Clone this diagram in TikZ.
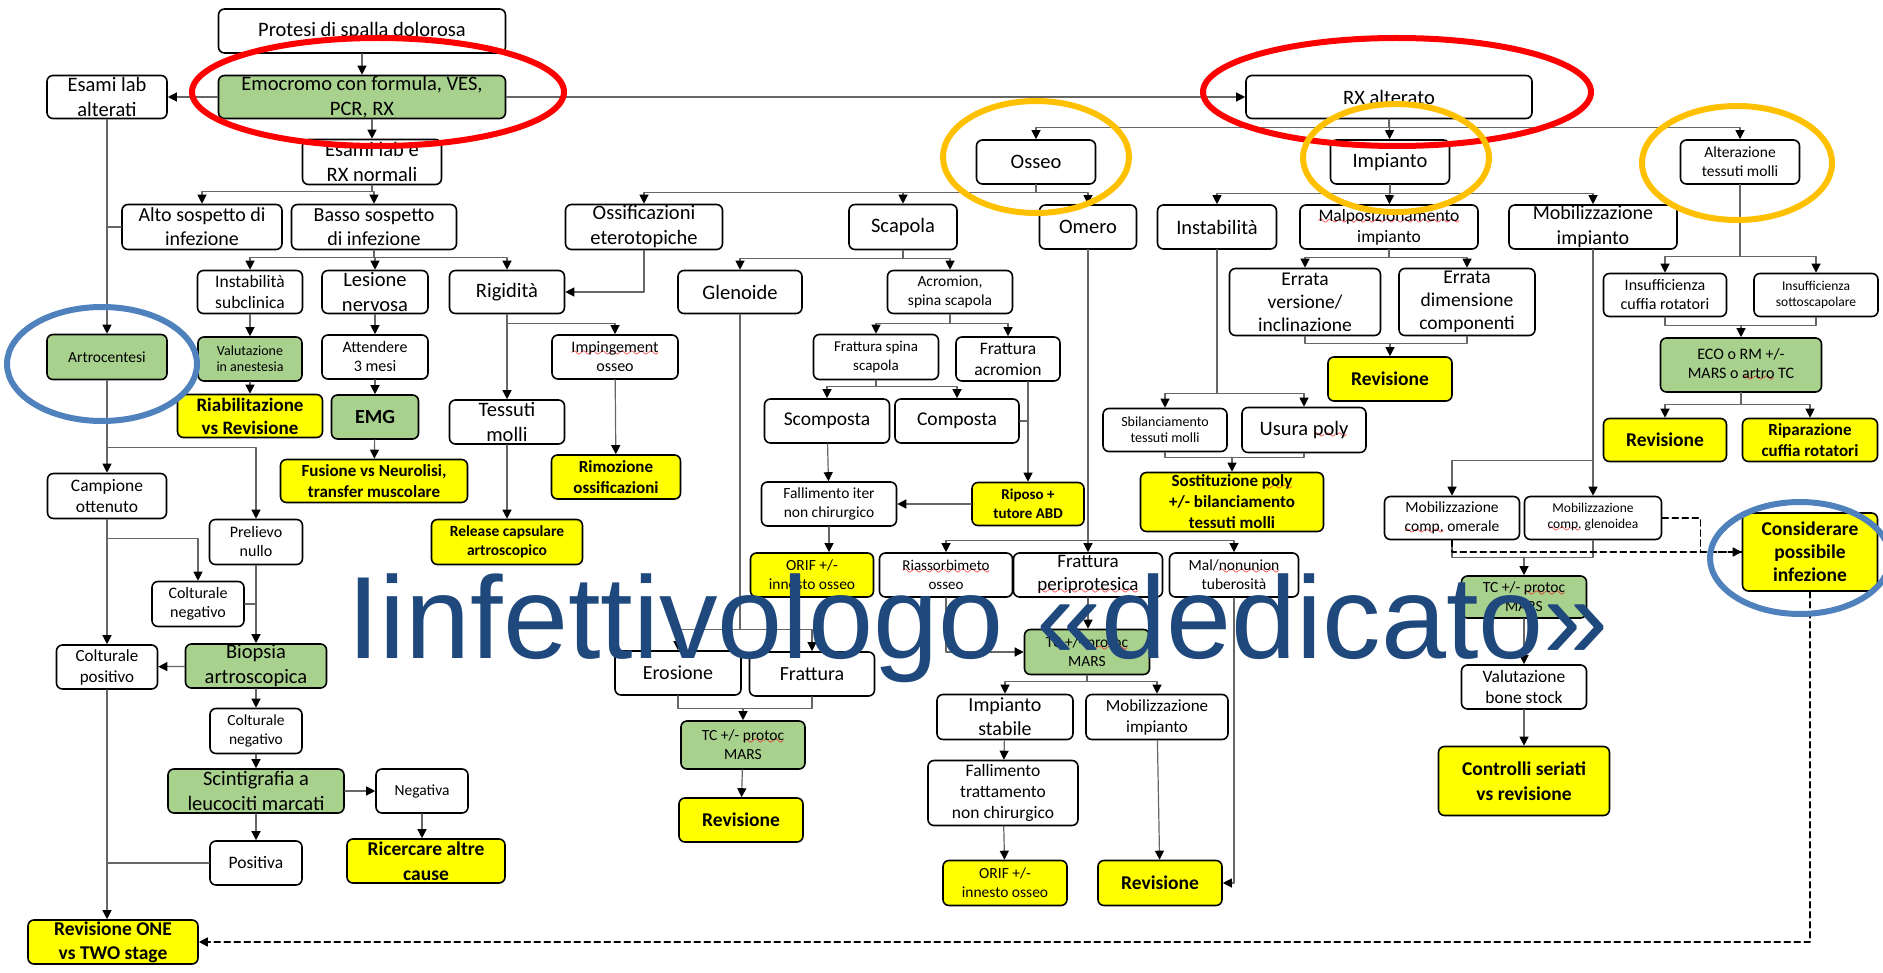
\documentclass[tikz,border=0pt]{standalone}
\usepackage{fontspec}
\setmainfont{Carlito}
\newfontfamily\bigsans{Liberation Sans}
\usetikzlibrary{arrows.meta}
\definecolor{boxgreen}{RGB}{169,209,142}
\definecolor{boxyellow}{RGB}{255,255,0}
\definecolor{ringred}{RGB}{255,0,0}
\definecolor{ringorange}{RGB}{255,192,0}
\definecolor{ringblue}{RGB}{79,129,189}
\definecolor{titleblue}{RGB}{31,73,125}
\font\wavefont=lasy10 scaled 1400
\newsavebox\spellbox
\newcommand\spellerr[1]{\sbox\spellbox{#1}\rlap{\textcolor{red}{\lower3.5pt\hbox to\wd\spellbox{\xleaders\hbox{\wavefont\char58}\hfil}}}\usebox\spellbox}
\begin{document}
\begin{tikzpicture}[x=1pt, y=-1pt, line join=round, line cap=round,
	box/.style={draw=black, line width=1.6pt, rounded corners=6pt, align=center, inner sep=0pt, text=black},
	wbox/.style={box, fill=white},
	gbox/.style={box, fill=boxgreen},
	ybox/.style={box, fill=boxyellow},
	heavy/.style={execute at begin node=\bfseries},
	sz/.style 2 args={minimum width=#1pt, minimum height=#2pt},
	fs/.style 2 args={font=\fontsize{#1}{#2}\selectfont},
	link/.style={draw=black!60, line width=1.2pt},
	arr/.style={link, -{Triangle[length=9pt, width=9pt, color=black]}},
	dashlink/.style={draw=black, line width=1.6pt, dash pattern=on 6pt off 4pt},
	dasharr/.style={dashlink, -{Triangle[length=9pt, width=9pt, color=black]}},
	ring/.style={line width=6pt}]
	\useasboundingbox (0,0) rectangle (1883,973);
	
	\node[wbox, sz={287}{44}, fs={20.5}{25}] (prot) at (362,31) {Protesi di spalla dolorosa};
	\node[gbox, sz={287}{43}, fs={20.5}{25}] (emo) at (362,97) {Emocromo con formula, VES,\\PCR, RX};
	\node[wbox, sz={120}{43}, fs={20.5}{25}] (alt) at (107,97) {Esami lab\\alterati};
	\node[wbox, sz={139}{45}, fs={20.5}{25}] (nrm) at (372,162) {Esami lab e\\RX normali};
	\node[wbox, sz={286}{43}, fs={20.5}{25}] (rx) at (1389,97) {RX alterato};
	
	\node[wbox, sz={160}{45}, fs={20}{24}] (alto) at (202,227) {Alto sospetto di\\infezione};
	\node[wbox, sz={165}{45}, fs={20}{24}] (basso) at (374,227) {Basso sospetto\\di infezione};
	\node[wbox, sz={105}{43}, fs={17.5}{21}] (subc) at (250,292) {Instabilità\\subclinica};
	\node[wbox, sz={106}{43}, fs={20.5}{25}] (nerv) at (375,292) {Lesione\\nervosa};
	\node[wbox, sz={115}{43}, fs={20.5}{25}] (rig) at (507,292) {Rigidità};
	\node[gbox, sz={120}{45}, fs={15.5}{19}] (artro) at (107,357) {Artrocentesi};
	\node[gbox, sz={104}{44}, fs={14}{16}] (valu) at (250,359) {Valutazione\\in anestesia};
	\node[wbox, sz={106}{44}, fs={16}{19}] (att) at (375,357) {Attendere\\3 mesi};
	\node[ybox, heavy, sz={145}{43}, fs={19}{23}] (riab) at (250,416) {Riabilitazione\\vs Revisione};
	\node[gbox, heavy, sz={87}{44}, fs={20}{24}] (emg) at (375,417) {EMG};
	\node[ybox, heavy, sz={187}{43}, fs={17}{21}] (fus) at (374,481) {Fusione vs Neurolisi,\\transfer muscolare};
	\node[wbox, sz={115}{44}, fs={20.5}{25}] (tess) at (507,422) {Tessuti\\molli};
	\node[ybox, heavy, sz={151}{45}, fs={15.5}{19}] (rel) at (507,542) {Release capsulare\\artroscopico};
	\node[wbox, sz={126}{44}, fs={16}{19}] (imping) at (615,357) {\spellerr{Impingement}\\osseo};
	\node[ybox, heavy, sz={129}{44}, fs={17}{21}] (rimo) at (616,477) {Rimozione\\ossificazioni};
	
	\node[wbox, sz={119}{45}, fs={17.5}{21}] (camp) at (107,496) {Campione\\ottenuto};
	\node[wbox, sz={93}{45}, fs={16}{19}] (prel) at (256,542) {Prelievo\\nullo};
	\node[wbox, sz={92}{45}, fs={16}{19}] (coln1) at (198,604) {Colturale\\negativo};
	\node[wbox, sz={101}{44}, fs={17}{21}] (colp) at (107,667) {Colturale\\positivo};
	\node[gbox, sz={141}{44}, fs={20.5}{25}] (biop) at (256,666) {Biopsia\\artroscopica};
	\node[wbox, sz={92}{45}, fs={15.5}{19}] (coln2) at (256,731) {Colturale\\negativo};
	\node[gbox, sz={176}{44}, fs={20.5}{25}] (scint) at (256,791) {Scintigrafia a\\leucociti marcati};
	\node[wbox, sz={92}{44}, fs={15.5}{19}] (neg) at (422,791) {Negativa};
	\node[ybox, heavy, sz={158}{44}, fs={19.5}{25}] (ric) at (426,861) {Ricercare altre\\cause};
	\node[wbox, sz={92}{44}, fs={17.5}{21}] (pos) at (256,863) {Positiva};
	\node[ybox, heavy, sz={170}{44}, fs={19.5}{24}] (rev1) at (113,942) {Revisione ONE\\vs TWO stage};
	
	\node[wbox, sz={157}{45}, fs={20.5}{25}] (ossif) at (644,227) {Ossificazioni\\eterotopiche};
	\node[wbox, sz={108}{45}, fs={20.5}{25}] (scap) at (903,227) {Scapola};
	\node[wbox, sz={124}{43}, fs={20.5}{25}] (glen) at (740,292) {Glenoide};
	\node[wbox, sz={125}{43}, fs={15.5}{19}] (acro) at (950,292) {Acromion,\\spina scapola};
	\node[wbox, sz={119}{44}, fs={20.5}{25}] (osseo) at (1036,162) {Osseo};
	\node[wbox, sz={119}{44}, fs={20.5}{25}] (impt) at (1390,162) {Impianto};
	\node[wbox, sz={119}{44}, fs={15.5}{19}] (altm) at (1740,162) {Alterazione\\tessuti molli};
	\node[wbox, sz={97}{44}, fs={20.5}{25}] (omero) at (1088,227) {Omero};
	\node[wbox, sz={119}{44}, fs={20.5}{25}] (inst) at (1217,227) {Instabilità};
	\node[wbox, sz={178}{44}, fs={17.5}{21}] (malp) at (1389,227) {\spellerr{Malposizionamento}\\impianto};
	\node[wbox, sz={168}{44}, fs={20}{25}] (mobi) at (1593,227) {Mobilizzazione\\impianto};
	\node[wbox, sz={151}{67}, fs={19.5}{23}] (erv) at (1305,302) {Errata\\versione/\\inclinazione};
	\node[wbox, sz={136}{67}, fs={19.5}{23}] (erd) at (1467,302) {Errata\\dimensione\\componenti};
	\node[wbox, sz={123}{43}, fs={16}{19}] (ins1) at (1665,295) {Insufficienza\\cuffia rotatori};
	\node[wbox, sz={124}{43}, fs={13.5}{16}] (ins2) at (1816,295) {Insufficienza\\sottoscapolare};
	
	\node[wbox, sz={125}{45}, fs={15}{19}] (frsp) at (876,357) {Frattura spina\\scapola};
	\node[wbox, sz={104}{44}, fs={17.5}{21}] (frac) at (1008,359) {Frattura\\acromion};
	\node[wbox, sz={125}{44}, fs={19.5}{24}] (scom) at (827,421) {Scomposta};
	\node[wbox, sz={124}{44}, fs={19.5}{24}] (comp) at (957,421) {Composta};
	\node[ybox, heavy, sz={112}{43}, fs={15}{19}] (ripo) at (1028,504) {Riposo +\\tutore ABD};
	\node[wbox, sz={135}{44}, fs={15.5}{19}] (fall1) at (829,504) {Fallimento iter\\non chirurgico};
	\node[ybox, sz={123}{44}, fs={15.5}{19}] (orif1) at (812,575) {ORIF +/-\\innesto osseo};
	\node[wbox, sz={133}{44}, fs={15}{19}] (riass) at (946,575) {\spellerr{Riassorbimeto}\\osseo};
	\node[wbox, sz={149}{44}, fs={19}{23}] (frper) at (1088,575) {Frattura\\\spellerr{periprotesica}};
	\node[wbox, sz={129}{44}, fs={15.5}{19}] (malu) at (1234,575) {Mal/\spellerr{nonunion}\\tuberosità};
	\node[wbox, sz={126}{44}, fs={20}{24}] (eros) at (678,673) {Erosione};
	\node[wbox, sz={125}{44}, fs={20}{24}] (fratt) at (812,674) {Frattura};
	\node[gbox, sz={124}{48}, fs={15.5}{19}] (tc1) at (743,745) {TC +/- \spellerr{protoc}\\MARS};
	\node[ybox, heavy, sz={124}{44}, fs={19.5}{24}] (rev2) at (741,820) {Revisione};
	\node[gbox, sz={125}{45}, fs={15.5}{19}] (tc2) at (1087,652) {TC +/- \spellerr{protoc}\\MARS};
	\node[wbox, sz={136}{45}, fs={20}{24}] (stab) at (1005,717) {Impianto\\stabile};
	\node[wbox, sz={142}{45}, fs={17}{21}] (mobi2) at (1157,717) {Mobilizzazione\\impianto};
	\node[wbox, sz={150}{65}, fs={17.5}{21}] (fall2) at (1003,793) {Fallimento\\trattamento\\non chirurgico};
	\node[ybox, sz={124}{45}, fs={15.5}{19}] (orif2) at (1005,883) {ORIF +/-\\innesto osseo};
	\node[ybox, heavy, sz={124}{45}, fs={19.5}{24}] (rev3) at (1160,883) {Revisione};
	
	\node[wbox, sz={124}{43}, fs={14}{16}] (sbil) at (1165,430) {Sbilanciamento\\tessuti molli};
	\node[wbox, sz={124}{45}, fs={20.5}{25}] (usura) at (1304,430) {Usura \spellerr{poly}};
	\node[ybox, heavy, sz={183}{59}, fs={17}{21}] (sost) at (1232,502) {Sostituzione \spellerr{poly}\\+/- bilanciamento\\tessuti molli};
	\node[ybox, heavy, sz={124}{44}, fs={19.5}{24}] (rev4) at (1390,379) {Revisione};
	\node[gbox, sz={161}{54}, fs={16}{19}] (eco) at (1741,365) {ECO o RM +/-\\MARS o \spellerr{artro} TC};
	\node[ybox, heavy, sz={123}{43}, fs={19.5}{24}] (rev5) at (1665,440) {Revisione};
	\node[ybox, heavy, sz={135}{43}, fs={17}{21}] (ripc) at (1810,440) {Riparazione\\cuffia rotatori};
	\node[wbox, sz={135}{43}, fs={15.5}{19}] (mcom) at (1452,518) {Mobilizzazione\\\spellerr{comp.} omerale};
	\node[wbox, sz={137}{43}, fs={13.5}{16}] (mcgl) at (1593,518) {Mobilizzazione\\\spellerr{comp.} glenoidea};
	\node[ybox, heavy, sz={135}{78}, fs={19.5}{23}] (cons) at (1810,552) {Considerare\\possibile\\infezione};
	\node[gbox, sz={125}{42}, fs={15.5}{19}] (tc3) at (1524,597) {TC +/- \spellerr{protoc}\\MARS};
	\node[wbox, sz={125}{44}, fs={17.5}{21}] (vbs) at (1524,687) {Valutazione\\bone stock};
	\node[ybox, heavy, sz={171}{69}, fs={19.5}{25}] (ctrl) at (1524,781) {Controlli seriati\\vs revisione};
	
	\draw[arr] (prot) -- (emo);
	\draw[arr] (emo) -- (alt);
	\draw[arr] (emo) -- (rx);
	\draw[arr] (emo.south -| nrm.north) -- (nrm.north);
	\draw[arr] (nrm.south) -- ++(0,6) -| (alto.north);
	\draw[arr] (nrm.south) -- ++(0,6) -| (basso.north);
	\draw[link] (alto.west) -- (alto.west -| alt.south);
	\draw[arr] (alt) -- (artro);
	\draw[arr] (basso.south) -- ++(0,7) -| (subc.north);
	\draw[arr] (basso.south) -- ++(0,7) -| (nerv.north);
	\draw[arr] (basso.south) -- ++(0,7) -| (rig.north);
	\draw[arr] (subc) -- (valu);
	\draw[arr] (valu) -- (riab);
	\draw[arr] (nerv) -- (att);
	\draw[arr] (att) -- (emg);
	\draw[arr] (emg) -- (fus);
	\draw[arr] (ossif.south) |- (rig.east);
	\draw[arr] (rig) -- (tess);
	\draw[arr] (tess) -- (rel);
	\draw[arr] (rig.south) -- ++(0,9) -| (imping.north);
	\draw[arr] (imping) -- (rimo);
	
	\draw[arr] (artro) -- (camp);
	\draw[arr] (artro.south) -- ++(0,67) -| (prel.north);
	\draw[arr] (camp) -- (colp);
	\draw[arr] (camp.south) -- ++(0,19) -| (coln1.north);
	\draw[link] (coln1.east) -- (coln1.east -| prel.south);
	\draw[arr] (prel) -- (biop);
	\draw[arr] (biop) -- (colp);
	\draw[arr] (biop) -- (coln2);
	\draw[arr] (coln2) -- (scint);
	\draw[arr] (scint) -- (pos);
	\draw[arr] (scint) -- (neg);
	\draw[arr] (neg.south) -- (neg.south |- ric.north);
	\draw[link] (pos.west) -- (pos.west -| colp.south);
	\draw[arr] (colp.south) -- (colp.south |- rev1.north);
	
	\draw[arr] (rx.south) -- ++(0,8) -| (osseo.north);
	\draw[arr] (rx) -- (impt);
	\draw[arr] (rx.south) -- ++(0,8) -| (altm.north);
	\draw[arr] (osseo.south) -- ++(0,8) -| (ossif.north);
	\draw[arr] (osseo.south) -- ++(0,8) -| (scap.north);
	\draw[arr] (osseo.south) -- ++(0,8) -| (omero.north);
	\draw[arr] (scap.south) -- ++(0,8) -| (glen.north);
	\draw[arr] (scap.south) -- ++(0,8) -| (acro.north);
	\draw[arr] (acro.south) -- ++(0,9) -| (frsp.north);
	\draw[arr] (acro.south) -- ++(0,9) -| (frac.north);
	\draw[arr] (frsp.south) -- ++(0,6) -| (scom.north);
	\draw[arr] (frsp.south) -- ++(0,6) -| (comp.north);
	\draw[arr] (ripo.north |- frac.south) -- (ripo.north);
	\draw[link] (comp.east) -- (comp.east -| ripo.north);
	\draw[arr] (scom) -- (fall1);
	\draw[arr] (ripo) -- (fall1);
	\draw[arr] (fall1.south) -- (fall1.south |- orif1.north);
	\draw[arr] (glen.south) -- ++(0,315) -| (eros.north);
	\draw[arr] (glen.south) -- ++(0,315) -| (fratt.north);
	\path (eros.south) ++(0,13) coordinate (ej);
	\draw[link] (eros.south) -- (ej) -| (fratt.south);
	\draw[arr] (ej -| tc1.north) -- (tc1.north);
	\draw[arr] (tc1) -- (rev2);
	
	\draw[arr] (omero) -- (frper);
	\draw[arr] (omero.south) -- ++(0,291) -| (riass.north);
	\draw[arr] (omero.south) -- ++(0,291) -| (malu.north);
	\draw[arr] (riass.south) |- (tc2.west);
	\draw[arr] (frper.south) -- (frper.south |- tc2.north);
	\draw[arr] (malu.south) |- (rev3.east);
	\draw[arr] (tc2.south) -- ++(0,6) -| (stab.north);
	\draw[arr] (tc2.south) -- ++(0,6) -| (mobi2.north);
	\draw[arr] (stab) -- (fall2);
	\draw[arr] (fall2) -- (orif2);
	\draw[arr] (mobi2) -- (rev3);
	
	\draw[arr] (impt.south) -- ++(0,9) -| (inst.north);
	\draw[arr] (impt) -- (malp);
	\draw[arr] (impt.south) -- ++(0,9) -| (mobi.north);
	\draw[arr] (malp.south) -- ++(0,8) -| (erv.north);
	\draw[arr] (malp.south) -- ++(0,8) -| (erd.north);
	\path (erv.south) ++(0,7) coordinate (rj);
	\draw[link] (erv.south) -- (rj) -| (erd.south);
	\draw[arr] (rj -| rev4.north) -- (rev4.north);
	\draw[arr] (inst.south) -- ++(0,144) -| (sbil.north);
	\draw[arr] (inst.south) -- ++(0,144) -| (usura.north);
	\path (sbil.south) ++(0,5) coordinate (sj);
	\draw[link] (sbil.south) -- (sj) -| (usura.south);
	\draw[arr] (sj -| sost.north) -- (sost.north);
	
	\draw[arr] (altm.south) -- ++(0,72) -| (ins1.north);
	\draw[arr] (altm.south) -- ++(0,72) -| (ins2.north);
	\path (ins1.south) ++(0,8) coordinate (ij);
	\draw[link] (ins1.south) -- (ij) -| (ins2.south);
	\draw[arr] (ij -| eco.north) -- (eco.north);
	\draw[arr] (eco.south) -- ++(0,12) -| (rev5.north);
	\draw[arr] (eco.south) -- ++(0,12) -| (ripc.north);
	
	\draw[arr] (mobi) -- (mcgl);
	\draw[arr] (mobi.south) -- ++(0,211) -| (mcom.north);
	\path (mcom.south) ++(0,17) coordinate (mj);
	\draw[link] (mcom.south) -- (mj) -| (mcgl.south);
	\draw[arr] (mj -| tc3.north) -- (tc3.north);
	\draw[arr] (tc3) -- (vbs);
	\draw[arr] (vbs) -- (ctrl);
	\draw[dashlink] (mcom.south) -- (mcom.south |- cons.west) -- (cons.west);
	\draw[dasharr] (mcgl.east) -- ++(38,0) |- (cons.west);
	\draw[dasharr] (cons.south) |- (rev1.east);
	
	\draw[ring, ringred] (378,92) ellipse [x radius=186, y radius=54];
	\draw[ring, ringred] (1397,92) ellipse [x radius=194, y radius=54];
	\draw[ring, ringorange] (1036,157) ellipse [x radius=93, y radius=56];
	\draw[ring, ringorange] (1396,158) ellipse [x radius=93, y radius=54];
	\draw[ring, ringorange] (1737,163) ellipse [x radius=95, y radius=57];
	\draw[ring, ringblue] (102,364) ellipse [x radius=95, y radius=57];
	\draw[ring, ringblue] (1800,558) ellipse [x radius=90, y radius=56];
	
	\node[anchor=base west, inner sep=0pt, text=titleblue, font=\bigsans\fontsize{117}{120}\selectfont] (title) at (347,658) {Iinfettivologo «dedicato»};
\end{tikzpicture}
\end{document}
